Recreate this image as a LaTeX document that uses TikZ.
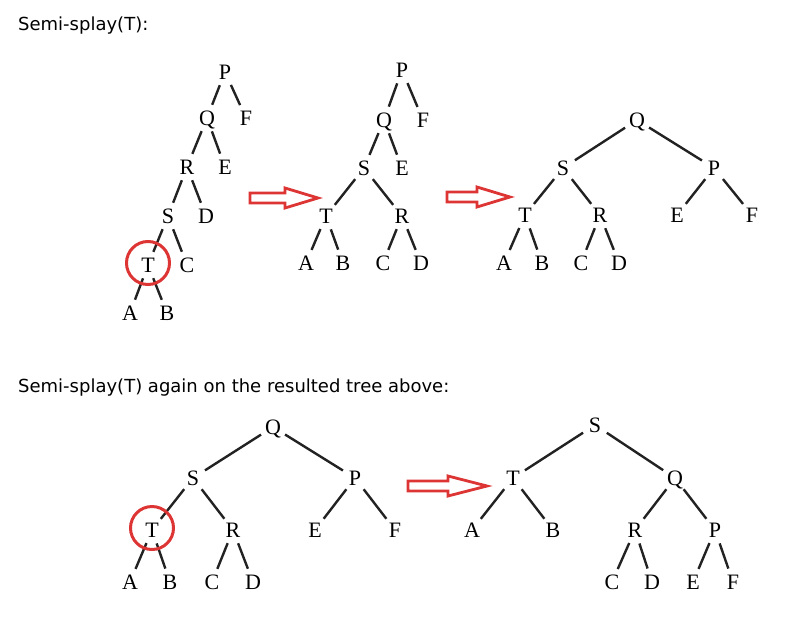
\documentclass[tikz,border=0pt]{standalone}
\usepackage{fontspec}
\setmainfont{Liberation Serif}
\newfontfamily\titlefont{DejaVu Sans}
\definecolor{arrowred}{RGB}{221,52,52}
\definecolor{edgegray}{RGB}{34,34,34}
\tikzset{
  tn/.style={circle, inner sep=0pt, minimum size=28pt, font=\fontsize{22}{22}\selectfont, text height=14.5pt, text depth=0pt},
  edge/.style={line width=2.4pt, draw=edgegray},
  ring/.style={circle, draw=arrowred, line width=3pt, minimum size=43pt, inner sep=0pt},
  fatarrow/.style={draw=arrowred, fill=white, line width=2.8pt, line join=miter},
  heading/.style={anchor=base west, inner sep=0pt, font=\titlefont\fontsize{18}{18}\selectfont}
}
\begin{document}
\begin{tikzpicture}[x=1pt, y=-1pt]
 \useasboundingbox (0,0) rectangle (792,642);

 \node[heading] (title1) at (18,31) {Semi-splay(T):};
 \node[heading] (title2) at (18,392) {Semi-splay(T) again on the resulted tree above:};

 % first tree
 \node[tn] (Pa) at (225,72) {P};
 \node[tn] (Qa) at (207,118) {Q};
 \node[tn] (Fa) at (246,118) {F};
 \node[tn] (Ra) at (187,167) {R};
 \node[tn] (Ea) at (225,167) {E};
 \node[tn] (Sa) at (168,216) {S};
 \node[tn] (Da) at (206,216) {D};
 \node[tn] (Ta) at (148,265) {T};
 \node[tn] (Ca) at (187,265) {C};
 \node[tn] (Aa) at (130,313) {A};
 \node[tn] (Ba) at (167,313) {B};
 \draw[edge] (Pa) -- (Qa) (Pa) -- (Fa) (Qa) -- (Ra) (Qa) -- (Ea)
  (Ra) -- (Sa) (Ra) -- (Da) (Sa) -- (Ta) (Sa) -- (Ca) (Ta) -- (Aa) (Ta) -- (Ba);
 \node[ring] (ringa) at ([yshift=2pt]Ta) {};

 % second tree
 \node[tn] (Pb) at (402,70) {P};
 \node[tn] (Qb) at (384,120) {Q};
 \node[tn] (Fb) at (423,120) {F};
 \node[tn] (Sb) at (364,168) {S};
 \node[tn] (Eb) at (402,168) {E};
 \node[tn] (Tb) at (326,216) {T};
 \node[tn] (Rb) at (402,216) {R};
 \node[tn] (Ab) at (306,263) {A};
 \node[tn] (Bb) at (343,263) {B};
 \node[tn] (Cb) at (383,263) {C};
 \node[tn] (Db) at (421,263) {D};
 \draw[edge] (Pb) -- (Qb) (Pb) -- (Fb) (Qb) -- (Sb) (Qb) -- (Eb)
  (Sb) -- (Tb) (Sb) -- (Rb) (Tb) -- (Ab) (Tb) -- (Bb) (Rb) -- (Cb) (Rb) -- (Db);

 % third tree
 \node[tn] (Qc) at (637,120) {Q};
 \node[tn] (Sc) at (563,168) {S};
 \node[tn] (Pc) at (714,168) {P};
 \node[tn] (Tc) at (525,215) {T};
 \node[tn] (Rc) at (600,215) {R};
 \node[tn] (Ec) at (677,215) {E};
 \node[tn] (Fc) at (752,215) {F};
 \node[tn] (Ac) at (504,263) {A};
 \node[tn] (Bc) at (542,263) {B};
 \node[tn] (Cc) at (581,263) {C};
 \node[tn] (Dc) at (619,263) {D};
 \draw[edge] (Qc) -- (Sc) (Qc) -- (Pc) (Sc) -- (Tc) (Sc) -- (Rc) (Pc) -- (Ec) (Pc) -- (Fc)
  (Tc) -- (Ac) (Tc) -- (Bc) (Rc) -- (Cc) (Rc) -- (Dc);

 % bottom left tree
 \node[tn] (Qd) at (273,427) {Q};
 \node[tn] (Sd) at (193,478) {S};
 \node[tn] (Pd) at (355,478) {P};
 \node[tn] (Td) at (152,530) {T};
 \node[tn] (Rd) at (233,530) {R};
 \node[tn] (Ed) at (315,530) {E};
 \node[tn] (Fd) at (395,530) {F};
 \node[tn] (Ad) at (130,582) {A};
 \node[tn] (Bd) at (170,582) {B};
 \node[tn] (Cd) at (212,582) {C};
 \node[tn] (Dd) at (253,582) {D};
 \draw[edge] (Qd) -- (Sd) (Qd) -- (Pd) (Sd) -- (Td) (Sd) -- (Rd) (Pd) -- (Ed) (Pd) -- (Fd)
  (Td) -- (Ad) (Td) -- (Bd) (Rd) -- (Cd) (Rd) -- (Dd);
 \node[ring] (ringd) at ([yshift=2pt]Td) {};

 % bottom right tree
 \node[tn] (Se) at (595,425) {S};
 \node[tn] (Te) at (513,478) {T};
 \node[tn] (Qe) at (675,478) {Q};
 \node[tn] (Ae) at (472,530) {A};
 \node[tn] (Be) at (553,530) {B};
 \node[tn] (Re) at (635,530) {R};
 \node[tn] (Pe) at (715,530) {P};
 \node[tn] (Ce) at (612,582) {C};
 \node[tn] (De) at (652,582) {D};
 \node[tn] (Ee) at (693,582) {E};
 \node[tn] (Fe) at (733,582) {F};
 \draw[edge] (Se) -- (Te) (Se) -- (Qe) (Te) -- (Ae) (Te) -- (Be) (Qe) -- (Re) (Qe) -- (Pe)
  (Re) -- (Ce) (Re) -- (De) (Pe) -- (Ee) (Pe) -- (Fe);

 % hollow red arrows
 \draw[fatarrow] (250,193) -- (285,193) -- (285,188) -- (318,198) -- (285,208) -- (285,203) -- (250,203) -- cycle;
 \draw[fatarrow] (447,192) -- (477,192) -- (477,187) -- (510,197) -- (477,207) -- (477,202) -- (447,202) -- cycle;
 \draw[fatarrow] (408,481) -- (448,481) -- (448,476) -- (487,486) -- (448,496) -- (448,491) -- (408,491) -- cycle;
\end{tikzpicture}
\end{document}
